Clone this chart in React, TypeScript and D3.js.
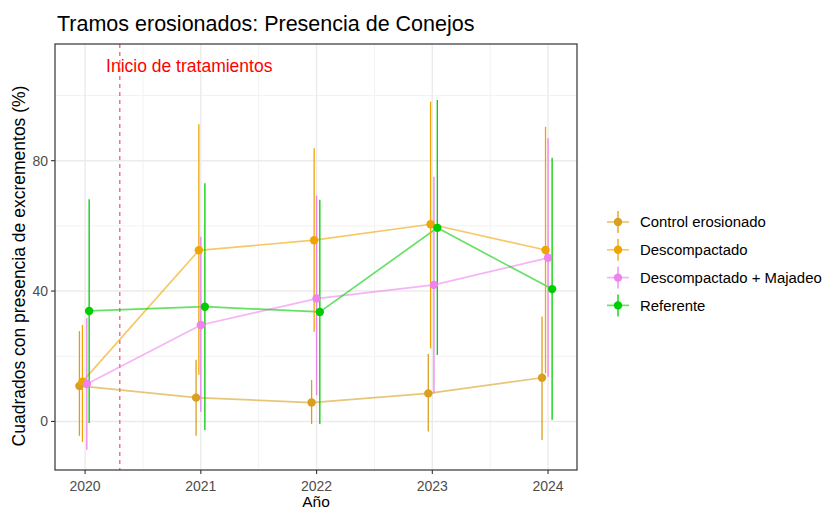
import React from 'react';
import * as d3 from 'd3';

// data
const years = [2020, 2021, 2022, 2023, 2024];
const seriesNames = ['Control erosionado', 'Descompactado', 'Descompactado + Majadeo', 'Referente'];
const seriesColors = ['#D9A020', '#EFA500', '#EE82EE', '#00CD00'];

const controlMean = [10.9, 7.3, 5.8, 8.6, 13.4];
const controlLow = [-4.4, -4.4, -0.8, -3.1, -5.7];
const controlHigh = [27.7, 18.9, 12.7, 20.7, 32.2];
const controlShift = [-0.049, -0.041, -0.043, -0.035, -0.052];

const descMean = [12.2, 52.5, 55.6, 60.5, 52.6];
const descLow = [-6.3, 14.3, 27.5, 22.4, 14.8];
const descHigh = [29.6, 91.2, 83.8, 98.1, 90.4];
const descShift = [-0.023, -0.017, -0.021, -0.015, -0.022];

const majMean = [11.5, 29.6, 37.7, 41.9, 50.2];
const majLow = [-8.7, 3.0, 8.0, 8.6, 13.7];
const majHigh = [31.7, 56.7, 69.3, 75.1, 86.9];
const majShift = [0.015, 0.0, 0.0, 0.014, 0.0];

const refMean = [33.9, 35.2, 33.6, 59.4, 40.6];
const refLow = [-0.5, -2.6, -0.8, 20.4, 0.5];
const refHigh = [68.2, 73.1, 68.0, 98.6, 80.9];
const refShift = [0.035, 0.035, 0.028, 0.043, 0.035];

const yTicks = [0, 40, 80];
const yMinor = [20, 60, 100];
const xMinor = [2020.5, 2021.5, 2022.5, 2023.5];
const treatmentStart = 2020.3;

const title = 'Tramos erosionados: Presencia de Conejos';
const yTitle = 'Cuadrados con presencia de excrementos (%)';
const xTitle = 'Año';
const annotation = 'Inicio de tratamientos';

const series = [
  { mean: controlMean, low: controlLow, high: controlHigh, shift: controlShift },
  { mean: descMean, low: descLow, high: descHigh, shift: descShift },
  { mean: majMean, low: majLow, high: majHigh, shift: majShift },
  { mean: refMean, low: refLow, high: refHigh, shift: refShift },
].map((s, i) => ({
  name: seriesNames[i],
  color: seriesColors[i],
  points: years.map((yr, j) => ({ x: yr + s.shift[j], y: s.mean[j], lo: s.low[j], hi: s.high[j] })),
}));

const font = 'Liberation Sans, Arial, sans-serif';

export default function App() {
  const panel = { left: 55, right: 577, top: 44, bottom: 470 };
  const x = d3.scaleLinear().domain([2019.74, 2024.25]).range([panel.left, panel.right]);
  const y = d3.scaleLinear().domain([-14.9, 115.8]).range([panel.bottom, panel.top]);

  const line = d3.line<{ x: number; y: number }>()
    .x(d => x(d.x))
    .y(d => y(d.y));

  return (
    <svg width={822} height={512} style={{ position: 'absolute', left: 0, top: 0, background: '#fff' }}
      fontFamily={font}>
      <rect x={0} y={0} width={822} height={512} fill="#fff" />

      {/* grid */}
      {yMinor.map(v => (
        <line key={'ym' + v} x1={panel.left} x2={panel.right} y1={y(v)} y2={y(v)} stroke="#F2F2F2" strokeWidth={1} />
      ))}
      {xMinor.map(v => (
        <line key={'xm' + v} x1={x(v)} x2={x(v)} y1={panel.top} y2={panel.bottom} stroke="#F2F2F2" strokeWidth={1} />
      ))}
      {yTicks.map(v => (
        <line key={'yg' + v} x1={panel.left} x2={panel.right} y1={y(v)} y2={y(v)} stroke="#EBEBEB" strokeWidth={1.4} />
      ))}
      {years.map(v => (
        <line key={'xg' + v} x1={x(v)} x2={x(v)} y1={panel.top} y2={panel.bottom} stroke="#EBEBEB" strokeWidth={1.4} />
      ))}

      {/* treatment start */}
      <line x1={x(treatmentStart)} x2={x(treatmentStart)} y1={panel.top} y2={panel.bottom}
        stroke="#E9546C" strokeWidth={1.2} strokeDasharray="4,4" />
      <text x={x(2020.9)} y={72} fill="#FF0000" fontSize={17.5} textAnchor="middle">{annotation}</text>

      {/* connecting lines */}
      {series.map(s => (
        <path key={'l' + s.name} d={line(s.points) || ''} fill="none" stroke={s.color}
          strokeOpacity={0.6} strokeWidth={1.7} />
      ))}

      {/* error bars */}
      {series.map(s => s.points.map((p, j) => (
        <line key={'e' + s.name + j} x1={x(p.x)} x2={x(p.x)} y1={y(p.lo)} y2={y(p.hi)}
          stroke={s.color} strokeWidth={1.3} />
      )))}

      {/* points */}
      {series.map(s => s.points.map((p, j) => (
        <circle key={'p' + s.name + j} cx={x(p.x)} cy={y(p.y)} r={4.2} fill={s.color} />
      )))}

      {/* panel border */}
      <rect x={panel.left} y={panel.top} width={panel.right - panel.left} height={panel.bottom - panel.top}
        fill="none" stroke="#333333" strokeWidth={1.2} />

      {/* axes */}
      {yTicks.map(v => (
        <g key={'yt' + v}>
          <line x1={panel.left - 4} x2={panel.left} y1={y(v)} y2={y(v)} stroke="#333333" strokeWidth={1.1} />
          <text x={panel.left - 7} y={y(v)} dy="0.35em" textAnchor="end" fontSize={14} fill="#4D4D4D">{v}</text>
        </g>
      ))}
      {years.map(v => (
        <g key={'xt' + v}>
          <line x1={x(v)} x2={x(v)} y1={panel.bottom} y2={panel.bottom + 4} stroke="#333333" strokeWidth={1.1} />
          <text x={x(v)} y={491} textAnchor="middle" fontSize={14} fill="#4D4D4D">{v}</text>
        </g>
      ))}

      <text x={(panel.left + panel.right) / 2} y={507} textAnchor="middle" fontSize={15.5} fill="#000">{xTitle}</text>
      <text transform={`translate(25,${(panel.top + panel.bottom) / 2 + 9}) rotate(-90)`} textAnchor="middle"
        fontSize={17.5} fill="#000">{yTitle}</text>

      <text x={57} y={31} fontSize={21.5} fill="#000">{title}</text>

      {/* legend */}
      {series.map((s, i) => {
        const cy = 222 + i * 27.8;
        const cx = 618;
        return (
          <g key={'lg' + s.name}>
            <line x1={cx - 11} x2={cx + 11} y1={cy} y2={cy} stroke={s.color} strokeOpacity={0.6} strokeWidth={1.7} />
            <line x1={cx} x2={cx} y1={cy - 11} y2={cy + 11} stroke={s.color} strokeWidth={1.3} />
            <circle cx={cx} cy={cy} r={4.2} fill={s.color} />
            <text x={640} y={cy} dy="0.35em" fontSize={14.9} fill="#000">{s.name}</text>
          </g>
        );
      })}
    </svg>
  );
}
